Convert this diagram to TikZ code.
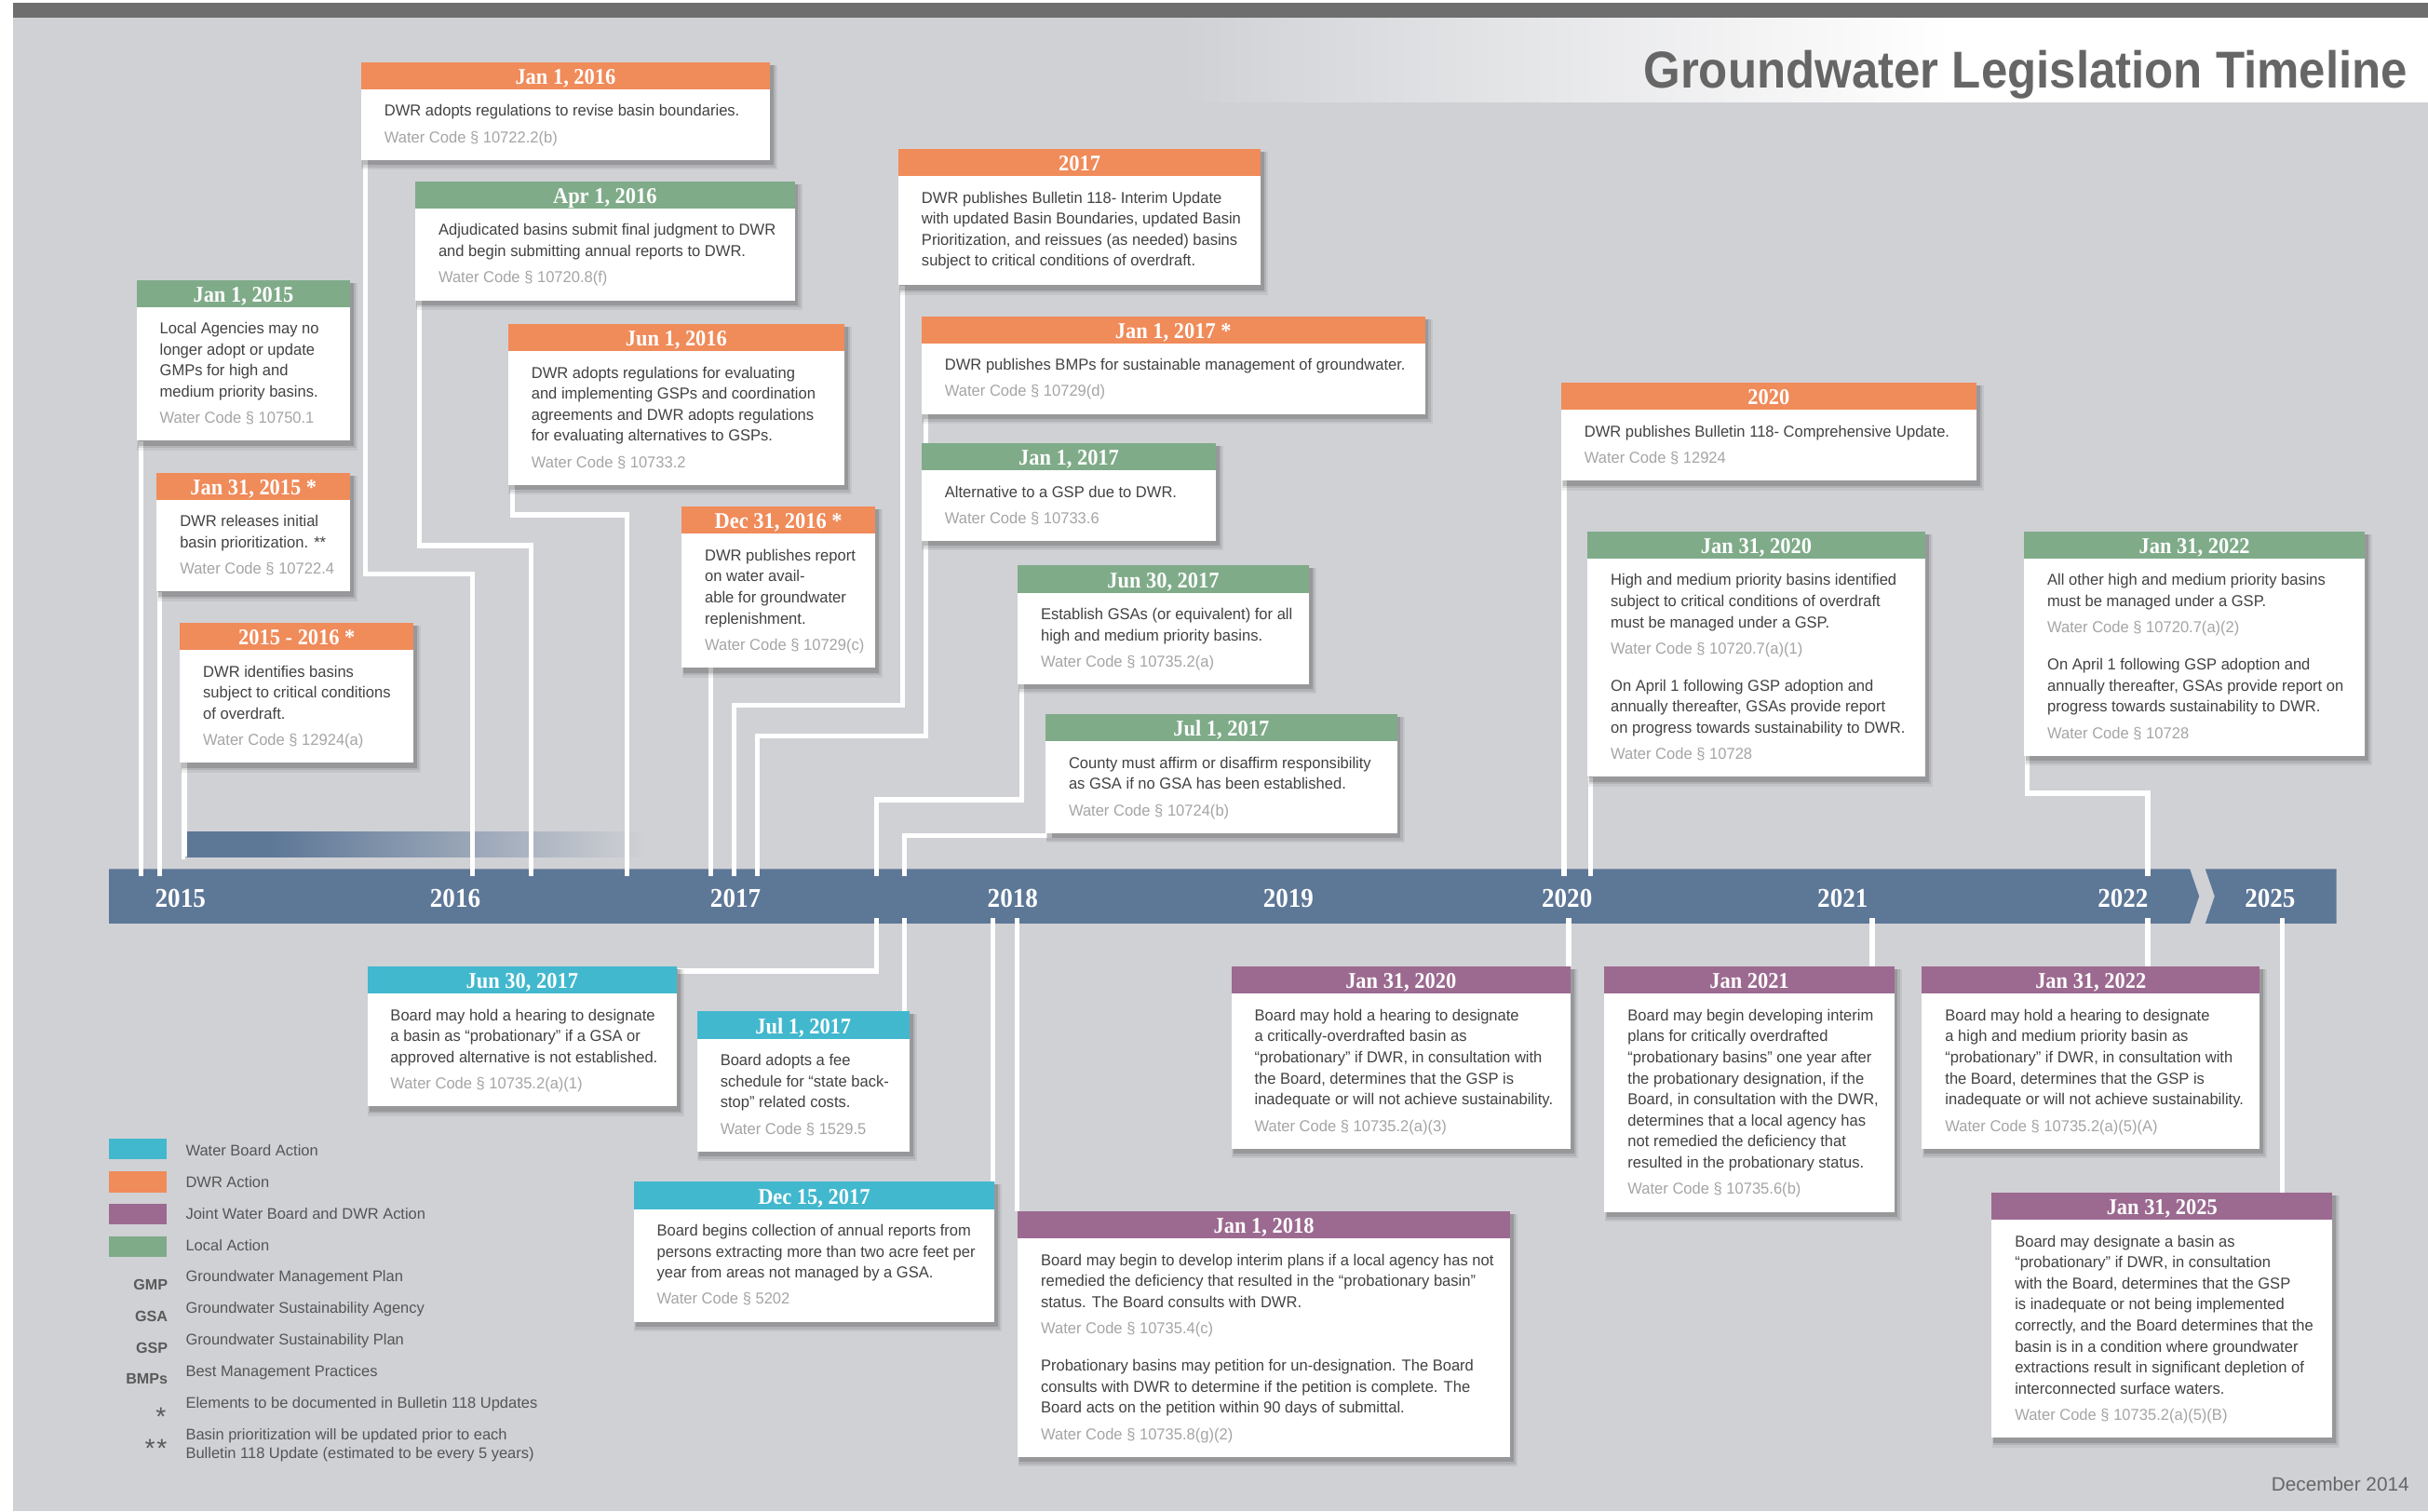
\documentclass[tikz,border=0pt]{standalone}
\usepackage{fontspec}
\setmainfont{Liberation Sans}
\newfontfamily\bodyfont[FakeStretch=0.975]{Liberation Sans}
\newfontfamily\hdrfont[FakeStretch=0.93]{Liberation Serif}
\usepackage{graphicx}
\definecolor{bgc}{RGB}{208,209,213}
\definecolor{topgray}{RGB}{110,110,110}
\definecolor{barblue}{RGB}{93,119,151}
\definecolor{dwrorange}{RGB}{240,139,90}
\definecolor{localgreen}{RGB}{127,171,137}
\definecolor{jointpurple}{RGB}{156,106,144}
\definecolor{wbcyan}{RGB}{66,184,206}
\definecolor{bodygray}{RGB}{66,66,66}
\definecolor{codegray}{RGB}{165,165,165}
\definecolor{leggray}{RGB}{85,85,85}
\definecolor{abbrgray}{RGB}{90,90,90}
\definecolor{titlegray}{RGB}{102,102,102}
\pgfdeclarelayer{bglayer}
\pgfdeclarelayer{connlayer}
\pgfsetlayers{bglayer,connlayer,main}
\tikzset{
  conn/.style={draw=white, line width=3.2pt},
  boxbody/.style={fill=white, inner sep=0pt, draw=none},
  hdrbar/.style={inner xsep=0pt, inner ysep=0pt, minimum height=17.6pt, text height=10.8pt, text depth=0pt, text=white, font=\hdrfont\bfseries\fontsize{14.5}{16}\selectfont},
  bodytxt/.style={inner sep=0pt, text=bodygray, font=\bodyfont\fontsize{10.2}{13.6}\selectfont},
  yearlbl/.style={inner sep=0pt, anchor=base, text=white, font=\hdrfont\bfseries\fontsize{17.5}{20}\selectfont},
  legtxt/.style={inner sep=0pt, anchor=base west, text=leggray, font=\fontsize{9.9}{12.1}\selectfont},
  legabbr/.style={inner sep=0pt, anchor=base east, text=abbrgray, font=\bfseries\fontsize{9.7}{12}\selectfont},
  swatch/.style={inner sep=0pt, minimum width=37.4pt, minimum height=13.4pt, anchor=north west, draw=none},
}
\newcommand\Ln[1]{\hbox{#1}}
\newcommand\Cd[1]{\vskip3.4pt\hbox{\color{codegray}#1}}
\newcommand\Pg{\vskip10.4pt}
% #1 name, #2 colour, #3 x left, #4 x right, #5 y top, #6 y bottom, #7 title, #8 body
\newcommand\evbox[8]{%
  \fill[black,opacity=.06] (#3+0.5,#5+2) rectangle (#4+5,#6+6.5);
  \fill[black,opacity=.09] (#3+1,#5+2) rectangle (#4+3.8,#6+5);
  \fill[black,opacity=.14] (#3+1.5,#5+2) rectangle (#4+2.5,#6+3.5);
  \node[boxbody, minimum width={#4-#3}, minimum height={#6-#5}, anchor=north west] (#1) at (#3,#5) {};
  \node[hdrbar, fill=#2, minimum width={#4-#3}, anchor=north west] (#1-h) at (#3,#5) {#7};
  \node[bodytxt, anchor=base west] (#1-b) at (#3+15,#5+35.1) {\vtop{\baselineskip=13.6pt #8}};
}
\begin{document}
\begin{tikzpicture}[x=1pt,y=-1pt]
\useasboundingbox (0,0) rectangle (1568,976);
\begin{pgfonlayer}{bglayer}
  \fill[white] (0,0) rectangle (1568,976);
  \fill[bgc] (8.5,2) rectangle (1568,976);
  \shade[left color=bgc, right color=white] (760,11.5) rectangle (1260,66);
  \fill[white] (1259.5,11.5) rectangle (1568,66);
  \fill[topgray] (8.5,2) rectangle (1568,11.5);
  % fading bar 2015-2016
  \fill[barblue] (119.5,537) rectangle (175,553.5);
  \shade[left color=barblue, right color=bgc] (174.5,537) rectangle (418,553.5);
  % timeline bar
  \fill[barblue] (70.4,561.2) -- (1414.2,561.2) -- (1420.2,578.8) -- (1414.2,596.4) -- (70.4,596.4) -- cycle;
  \fill[barblue] (1424.2,561.2) -- (1508.9,561.2) -- (1508.9,596.4) -- (1424.2,596.4) -- (1430.2,578.8) -- cycle;
\end{pgfonlayer}
\coordinate (gradsw) at (119.5,553.5);
\foreach \x in {91,103,305,343,405,459,474,489,566,584,1010,1027,1387} \coordinate (tt\x) at (\x,566);
\foreach \x in {566,584,641,657,1013,1209,1387,1474} \coordinate (tb\x) at (\x,593);

% title
\node[anchor=base east, inner sep=0pt, text=titlegray] (title) at (1555,57)
  {\scalebox{0.915}[1]{\fontsize{33.5}{40}\selectfont\bfseries Groundwater Legislation Timeline}};

% ---------- boxes above the timeline ----------
\evbox{jan16}{dwrorange}{233}{497}{40}{103.1}{Jan 1, 2016}{\Ln{DWR adopts regulations to revise basin boundaries.}\Cd{Water Code § 10722.2(b)}}
\evbox{apr16}{localgreen}{268}{513}{117}{193.7}{Apr 1, 2016}{\Ln{Adjudicated basins submit final judgment to DWR}\Ln{and begin submitting annual reports to DWR.}\Cd{Water Code § 10720.8(f)}}
\evbox{y2017}{dwrorange}{580}{814}{96}{184}{2017}{\Ln{DWR publishes Bulletin 118- Interim Update}\Ln{with updated Basin Boundaries, updated Basin}\Ln{Prioritization, and reissues (as needed) basins}\Ln{subject to critical conditions of overdraft.}}
\evbox{jan15}{localgreen}{88}{226}{180.5}{284.4}{Jan 1, 2015}{\Ln{Local Agencies may no}\Ln{longer adopt or update}\Ln{GMPs for high and}\Ln{medium priority basins.}\Cd{Water Code § 10750.1}}
\evbox{jun16}{dwrorange}{328}{545}{209}{312.9}{Jun 1, 2016}{\Ln{DWR adopts regulations for evaluating}\Ln{and implementing GSPs and coordination}\Ln{agreements and DWR adopts regulations}\Ln{for evaluating alternatives to GSPs.}\Cd{Water Code § 10733.2}}
\evbox{jan17s}{dwrorange}{595}{920}{204}{267.1}{Jan 1, 2017 *}{\Ln{DWR publishes BMPs for sustainable management of groundwater.}\Cd{Water Code § 10729(d)}}
\evbox{y2020}{dwrorange}{1008}{1276}{247}{310.1}{2020}{\Ln{DWR publishes Bulletin 118- Comprehensive Update.}\Cd{Water Code § 12924}}
\evbox{jan17}{localgreen}{595}{785}{286}{349.1}{Jan 1, 2017}{\Ln{Alternative to a GSP due to DWR.}\Cd{Water Code § 10733.6}}
\evbox{jan3115}{dwrorange}{101}{226}{305}{381.7}{Jan 31, 2015 *}{\Ln{DWR releases initial}\Ln{basin prioritization. **}\Cd{Water Code § 10722.4}}
\evbox{dec16}{dwrorange}{440}{565}{327}{430.9}{Dec 31, 2016 *}{\Ln{DWR publishes report}\Ln{on water avail-}\Ln{able for groundwater}\Ln{replenishment.}\Cd{Water Code § 10729(c)}}
\evbox{jan20g}{localgreen}{1025}{1243}{343}{501.5}{Jan 31, 2020}{\Ln{High and medium priority basins identified}\Ln{subject to critical conditions of overdraft}\Ln{must be managed under a GSP.}\Cd{Water Code § 10720.7(a)(1)}\Pg\Ln{On April 1 following GSP adoption and}\Ln{annually thereafter, GSAs provide report}\Ln{on progress towards sustainability to DWR.}\Cd{Water Code § 10728}}
\evbox{jan22g}{localgreen}{1307}{1527}{343}{487.9}{Jan 31, 2022}{\Ln{All other high and medium priority basins}\Ln{must be managed under a GSP.}\Cd{Water Code § 10720.7(a)(2)}\Pg\Ln{On April 1 following GSP adoption and}\Ln{annually thereafter, GSAs provide report on}\Ln{progress towards sustainability to DWR.}\Cd{Water Code § 10728}}
\evbox{jun17}{localgreen}{657}{845}{365}{441.7}{Jun 30, 2017}{\Ln{Establish GSAs (or equivalent) for all}\Ln{high and medium priority basins.}\Cd{Water Code § 10735.2(a)}}
\evbox{y1516}{dwrorange}{116}{267}{402}{492.3}{2015 - 2016 *}{\Ln{DWR identifies basins}\Ln{subject to critical conditions}\Ln{of overdraft.}\Cd{Water Code § 12924(a)}}
\evbox{jul17}{localgreen}{675}{902}{461}{537.7}{Jul 1, 2017}{\Ln{County must affirm or disaffirm responsibility}\Ln{as GSA if no GSA has been established.}\Cd{Water Code § 10724(b)}}

% ---------- boxes below the timeline ----------
\evbox{jun17c}{wbcyan}{237}{437}{624}{714.3}{Jun 30, 2017}{\Ln{Board may hold a hearing to designate}\Ln{a basin as “probationary” if a GSA or}\Ln{approved alternative is not established.}\Cd{Water Code § 10735.2(a)(1)}}
\evbox{jul17c}{wbcyan}{450}{587}{653}{743.3}{Jul 1, 2017}{\Ln{Board adopts a fee}\Ln{schedule for “state back-}\Ln{stop” related costs.}\Cd{Water Code § 1529.5}}
\evbox{dec17}{wbcyan}{409}{642}{763}{853.3}{Dec 15, 2017}{\Ln{Board begins collection of annual reports from}\Ln{persons extracting more than two acre feet per}\Ln{year from areas not managed by a GSA.}\Cd{Water Code § 5202}}
\evbox{jan18}{jointpurple}{657}{975}{782}{940.5}{Jan 1, 2018}{\Ln{Board may begin to develop interim plans if a local agency has not}\Ln{remedied the deficiency that resulted in the “probationary basin”}\Ln{status. The Board consults with DWR.}\Cd{Water Code § 10735.4(c)}\Pg\Ln{Probationary basins may petition for un-designation. The Board}\Ln{consults with DWR to determine if the petition is complete. The}\Ln{Board acts on the petition within 90 days of submittal.}\Cd{Water Code § 10735.8(g)(2)}}
\evbox{jan20p}{jointpurple}{795}{1014}{624}{741.5}{Jan 31, 2020}{\Ln{Board may hold a hearing to designate}\Ln{a critically-overdrafted basin as}\Ln{“probationary” if DWR, in consultation with}\Ln{the Board, determines that the GSP is}\Ln{inadequate or will not achieve sustainability.}\Cd{Water Code § 10735.2(a)(3)}}
\evbox{jan21}{jointpurple}{1036}{1223}{624}{782.3}{Jan 2021}{\Ln{Board may begin developing interim}\Ln{plans for critically overdrafted}\Ln{“probationary basins” one year after}\Ln{the probationary designation, if the}\Ln{Board, in consultation with the DWR,}\Ln{determines that a local agency has}\Ln{not remedied the deficiency that}\Ln{resulted in the probationary status.}\Cd{Water Code § 10735.6(b)}}
\evbox{jan22p}{jointpurple}{1241}{1459}{624}{741.5}{Jan 31, 2022}{\Ln{Board may hold a hearing to designate}\Ln{a high and medium priority basin as}\Ln{“probationary” if DWR, in consultation with}\Ln{the Board, determines that the GSP is}\Ln{inadequate or will not achieve sustainability.}\Cd{Water Code § 10735.2(a)(5)(A)}}
\evbox{jan25}{jointpurple}{1286}{1506}{770}{928.3}{Jan 31, 2025}{\Ln{Board may designate a basin as}\Ln{“probationary” if DWR, in consultation}\Ln{with the Board, determines that the GSP}\Ln{is inadequate or not being implemented}\Ln{correctly, and the Board determines that the}\Ln{basin is in a condition where groundwater}\Ln{extractions result in significant depletion of}\Ln{interconnected surface waters.}\Cd{Water Code § 10735.2(a)(5)(B)}}

% ---------- connectors ----------
\begin{pgfonlayer}{connlayer}
  \draw[conn] ([xshift=3pt]jan15.south west) -- (tt91);
  \draw[conn] ([xshift=2pt]jan3115.south west) -- (tt103);
  \draw[conn] ([xshift=3pt]y1516.south west) |- (gradsw);
  \draw[conn] ([xshift=3pt]jan16.south west) -- ++(0,267) -| (tt305);
  \draw[conn] ([xshift=3pt]apr16.south west) -- ++(0,158.3) -| (tt343);
  \draw[conn] ([xshift=3pt]jun16.south west) -- ++(0,19.1) -| (tt405);
  \draw[conn] ([xshift=19pt]dec16.south west) -- (tt459);
  \draw[conn] ([xshift=3pt]y2017.south west) -- ++(0,271) -| (tt474);
  \draw[conn] ([xshift=3pt]jan17s.south west) -- ++(0,207.9) -| (tt489);
  \draw[conn] ([xshift=3pt]jun17.south west) -- ++(0,74.3) -| (tt566);
  \draw[conn] ([xshift=3pt]jul17.south west) -- ++(0,1.5) -| (tt584);
  \draw[conn] ([xshift=2pt]y2020.south west) -- (tt1010);
  \draw[conn] ([xshift=2pt]jan20g.south west) -- (tt1027);
  \draw[conn] ([xshift=2pt]jan22g.south west) -- ++(0,24) -| (tt1387);
  \draw[conn] (tb566) |- ([yshift=-3pt]jun17c.north east);
  \draw[conn] (tb584) -- (tb584 |- jul17c.north);
  \draw[conn] (tb641) -- (tb641 |- dec17.north);
  \draw[conn] (tb657) -- (tb657 |- jan18.north);
  \draw[conn] (tb1013) -- (tb1013 |- jan20p.north);
  \draw[conn] (tb1209) -- (tb1209 |- jan21.north);
  \draw[conn] (tb1387) -- (tb1387 |- jan22p.north);
  \draw[conn] (tb1474) -- (tb1474 |- jan25.north);
\end{pgfonlayer}

% ---------- year labels ----------
\node[yearlbl] (yr2015) at (116.5,585.7) {2015};
\node[yearlbl] (yr2016) at (294,585.7) {2016};
\node[yearlbl] (yr2017) at (475,585.7) {2017};
\node[yearlbl] (yr2018) at (654,585.7) {2018};
\node[yearlbl] (yr2019) at (832,585.7) {2019};
\node[yearlbl] (yr2020) at (1012,585.7) {2020};
\node[yearlbl] (yr2021) at (1190,585.7) {2021};
\node[yearlbl] (yr2022) at (1371,585.7) {2022};
\node[yearlbl] (yr2025) at (1466,585.7) {2025};

% ---------- legend ----------
\node[swatch, fill=wbcyan] (lgwb) at (70.2,735.2) {};
\node[swatch, fill=dwrorange] (lgdwr) at (70.2,756.3) {};
\node[swatch, fill=jointpurple] (lgjt) at (70.2,777.3) {};
\node[swatch, fill=localgreen] (lglc) at (70.2,798.1) {};
\node[legtxt] (lt1) at (119.8,746.6) {Water Board Action};
\node[legtxt] (lt2) at (119.8,767.1) {DWR Action};
\node[legtxt] (lt3) at (119.8,787.3) {Joint Water Board and DWR Action};
\node[legtxt] (lt4) at (119.8,807.8) {Local Action};
\node[legtxt] (lt5) at (119.8,827.8) {Groundwater Management Plan};
\node[legtxt] (lt6) at (119.8,848.3) {Groundwater Sustainability Agency};
\node[legtxt] (lt7) at (119.8,868.5) {Groundwater Sustainability Plan};
\node[legtxt] (lt8) at (119.8,888.9) {Best Management Practices};
\node[legtxt] (lt9) at (119.8,909.4) {Elements to be documented in Bulletin 118 Updates};
\node[legtxt] (lt10) at (119.8,929.6) {\vtop{\baselineskip=12.1pt\hbox{Basin prioritization will be updated prior to each}\hbox{Bulletin 118 Update (estimated to be every 5 years)}}};
\node[legabbr] (ab1) at (108.5,832.8) {GMP};
\node[legabbr] (ab2) at (108.5,853.5) {GSA};
\node[legabbr] (ab3) at (108.5,873.9) {GSP};
\node[legabbr] (ab4) at (108.5,894) {BMPs};
\node[legabbr, font=\fontsize{17}{17}\selectfont] (ab5) at (107.5,921) {*};
\node[legabbr, font=\fontsize{17}{17}\selectfont] (ab6) at (108,941) {*\kern1pt*};

% ---------- date ----------
\node[inner sep=0pt, anchor=base east, text=titlegray, font=\fontsize{12.5}{14}\selectfont] (date) at (1556,963) {December 2014};
\end{tikzpicture}
\end{document}
